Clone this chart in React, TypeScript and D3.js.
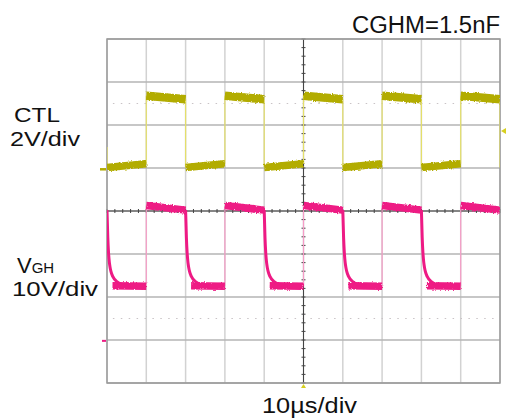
import React from 'react';
import * as d3 from 'd3';

const W = 512;
const H = 418;

// Oscilloscope screen: 10 horizontal divisions (10 µs/div), 8 vertical divisions
const timeDomain = [0, 100]; // µs
const divDomain = [-4, 4]; // divisions
const timeGrid = d3.range(0, 101, 10);
const divGrid = d3.range(-4, 4.01, 1);
const refLevels = [2.5, -2.5];

// CTL trace (2V/div), levels in divisions
const ctlRiseTimes = [10, 30, 50, 70, 90];
const ctlFallTimes = [0, 20, 40, 60, 80, 100];
const ctlHighLevels = [2.68, 2.6]; // plateau start, end
const ctlLowLevels = [1.01, 1.1];
const ctlFirstEdgeTop = 1.49;
const ctlGroundDiv = 0.97;
const ctlTriggerDiv = 1.86;

// VGH trace (10V/div), levels in divisions
const vghRiseTimes = [10, 30, 50, 70, 90];
const vghFallTimes = [0, 20, 40, 60, 80];
const vghHighLevels = [0.13, 0.02];
const vghLowLevels = [-1.74, -1.75];
const vghDecayOffsets = [0, 0.2, 0.4, 0.6, 0.8, 1.0, 1.5, 2.5, 4, 6];
const vghDecayFractions = [1, 0.64, 0.43, 0.31, 0.24, 0.19, 0.12, 0.055, 0.015, 0];
const vghGroundDiv = -3.02;

const YELLOW = '#b2ac00';
const YELLOW_EDGE = '#e4df6a';
const MAGENTA = '#ee1a84';
const MAGENTA_EDGE = '#f59cc6';

export default function App() {
  const x = d3.scaleLinear().domain(timeDomain).range([107, 500]);
  const y = d3.scaleLinear().domain(divDomain).range([383, 39]);
  const line = d3
    .line<[number, number]>()
    .x((d) => x(d[0]))
    .y((d) => y(d[1]));
  const curve = d3
    .line<[number, number]>()
    .x((d) => x(d[0]))
    .y((d) => y(d[1]))
    .curve(d3.curveMonotoneX);

  // CTL plateaus
  const ctlHighSegs = ctlRiseTimes.map((t, i) => [
    [t, ctlHighLevels[0]],
    [ctlFallTimes[i + 1], ctlHighLevels[1]],
  ] as [number, number][]);
  const ctlLowSegs = ctlRiseTimes.map((t, i) => [
    [ctlFallTimes[i], ctlLowLevels[0]],
    [t, ctlLowLevels[1]],
  ] as [number, number][]);
  const ctlEdges: [number, number][][] = [
    ...ctlRiseTimes.map((t) => [
      [t, ctlLowLevels[1]],
      [t, ctlHighLevels[0]],
    ] as [number, number][]),
    ...ctlFallTimes.map((t, i) => [
      [t, i === 0 ? ctlFirstEdgeTop : ctlHighLevels[1]],
      [t, ctlLowLevels[0]],
    ] as [number, number][]),
  ];

  // VGH
  const vghHighSegs = vghRiseTimes.map((t, i) => [
    [t, vghHighLevels[0]],
    [i + 1 < vghFallTimes.length ? vghFallTimes[i + 1] : timeDomain[1], vghHighLevels[1]],
  ] as [number, number][]);
  const vghDecays = vghFallTimes.map((t) =>
    vghDecayOffsets.map((o, k) => [
      t + o,
      vghLowLevels[0] + (vghHighLevels[1] - vghLowLevels[0]) * vghDecayFractions[k],
    ] as [number, number])
  );
  const vghLowSegs = vghFallTimes.map((t, i) => [
    [t + 1.4, vghLowLevels[0]],
    [vghRiseTimes[i], vghLowLevels[1]],
  ] as [number, number][]);
  const vghEdges = vghRiseTimes.map((t) => [
    [t, vghLowLevels[1]],
    [t, vghHighLevels[0]],
  ] as [number, number][]);

  const cx = x(50);
  const cy = y(0);
  const minorX = d3.range(0, 100.01, 2);
  const minorY = d3.range(-4, 4.01, 0.2);
  const font = "'Liberation Sans', Arial, Helvetica, sans-serif";

  return (
    <svg width={W} height={H} style={{ position: 'absolute', left: 0, top: 0 }}>
      <rect width={W} height={H} fill="#fff" />
      <defs>
        <clipPath id="screen">
          <rect x={x(0)} y={y(4)} width={x(100) - x(0)} height={y(-4) - y(4)} />
        </clipPath>
        <filter id="fuzz" x="-5%" y="-60%" width="110%" height="220%">
          <feTurbulence type="fractalNoise" baseFrequency="0.9 0.5" numOctaves="2" seed="3" result="n" />
          <feDisplacementMap in="SourceGraphic" in2="n" scale="3" xChannelSelector="R" yChannelSelector="G" />
        </filter>
      </defs>

      {/* grid */}
      {timeGrid.map((t) => (
        <line key={'vx' + t} x1={x(t)} x2={x(t)} y1={y(4)} y2={y(-4)} stroke="#d2d2d2" strokeWidth={1.5} />
      ))}
      {divGrid.map((d) => (
        <line key={'hy' + d} x1={x(0)} x2={x(100)} y1={y(d)} y2={y(d)} stroke="#b4b4b4" strokeWidth={1.3} />
      ))}
      {refLevels.map((d) => (
        <line key={'ref' + d} x1={x(1.5)} x2={x(99)} y1={y(d)} y2={y(d)} stroke="#c9c3c6" strokeWidth={1.2} strokeDasharray="1.5 6.4" />
      ))}
      {/* center crosshair */}
      <line x1={cx} x2={cx} y1={y(4)} y2={y(-4)} stroke="#444" strokeWidth={1} />
      <line x1={x(0)} x2={x(100)} y1={cy} y2={cy} stroke="#444" strokeWidth={1} />
      {minorY.map((d) => (
        <line key={'my' + d} x1={cx - 2} x2={cx + 2} y1={y(d)} y2={y(d)} stroke="#444" strokeWidth={1} />
      ))}
      {minorX.map((t) => (
        <line key={'mx' + t} x1={x(t)} x2={x(t)} y1={cy - 2} y2={cy + 2} stroke="#444" strokeWidth={1} />
      ))}
      <rect x={x(0)} y={y(4)} width={x(100) - x(0)} height={y(-4) - y(4)} fill="none" stroke="#9a9a9a" strokeWidth={1.5} />

      <g clipPath="url(#screen)">
        {/* CTL trace */}
        {ctlEdges.map((s, i) => (
          <path key={'ce' + i} d={line(s)!} stroke={YELLOW_EDGE} strokeWidth={1.2} fill="none" />
        ))}
        <g filter="url(#fuzz)">
          {ctlHighSegs.map((s, i) => (
            <path key={'ch' + i} d={line(s)!} stroke={YELLOW} strokeWidth={8.5} fill="none" />
          ))}
          {ctlLowSegs.map((s, i) => (
            <path key={'cl' + i} d={line(s)!} stroke={YELLOW} strokeWidth={7.5} fill="none" />
          ))}
        </g>

        {/* VGH trace */}
        {vghEdges.map((s, i) => (
          <path key={'ve' + i} d={line(s)!} stroke={MAGENTA_EDGE} strokeWidth={1.2} fill="none" />
        ))}
        <g filter="url(#fuzz)">
          {vghHighSegs.map((s, i) => (
            <path key={'vh' + i} d={line(s)!} stroke={MAGENTA} strokeWidth={7.5} fill="none" />
          ))}
          {vghLowSegs.map((s, i) => (
            <path key={'vl' + i} d={line(s)!} stroke={MAGENTA} strokeWidth={7.5} fill="none" />
          ))}
        </g>
        {vghDecays.map((s, i) => (
          <path key={'vd' + i} d={curve(s)!} stroke={MAGENTA} strokeWidth={3} fill="none" />
        ))}
      </g>

      {/* markers */}
      <line x1={x(0) - 7} x2={x(0) - 1} y1={y(ctlGroundDiv)} y2={y(ctlGroundDiv)} stroke={YELLOW} strokeWidth={2.5} />
      <path d={`M${x(100) + 1},${y(ctlTriggerDiv)} l5,-3 l0,6 z`} fill="#d6cf20" />
      <line x1={x(0) - 5} x2={x(0) - 1} y1={y(vghGroundDiv)} y2={y(vghGroundDiv)} stroke={MAGENTA} strokeWidth={2} />
      <path d={`M${cx},${y(-4) + 1} l-2.5,4 l5,0 z`} fill="#d6cf20" />

      {/* labels */}
      <text x={500} y={33} textAnchor="end" fontFamily={font} fontSize={23} fill="#111" textLength={148} lengthAdjust="spacingAndGlyphs">CGHM=1.5nF</text>
      <text x={14} y={122} fontFamily={font} fontSize={21} fill="#111" textLength={46} lengthAdjust="spacingAndGlyphs">CTL</text>
      <text x={10} y={146} fontFamily={font} fontSize={21} fill="#111" textLength={70} lengthAdjust="spacingAndGlyphs">2V/div</text>
      <text x={17} y={273} fontFamily={font} fontSize={22} fill="#111">
        V<tspan fontSize={15}>GH</tspan>
      </text>
      <text x={12} y={296} fontFamily={font} fontSize={21} fill="#111" textLength={86} lengthAdjust="spacingAndGlyphs">10V/div</text>
      <text x={cx + 6} y={413} textAnchor="middle" fontFamily={font} fontSize={22} fill="#111" textLength={95} lengthAdjust="spacingAndGlyphs">10µs/div</text>
    </svg>
  );
}
